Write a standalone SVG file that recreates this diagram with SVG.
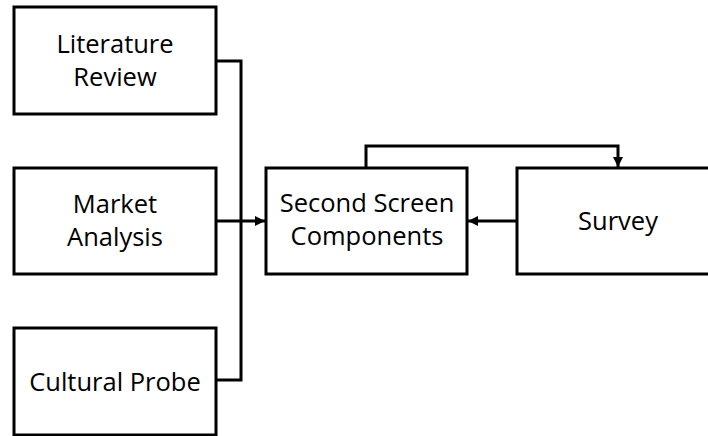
<svg xmlns="http://www.w3.org/2000/svg" width="708" height="436" viewBox="0 0 708 436">
  <style>
    .box { fill: #ffffff; stroke: #000000; stroke-width: 3; }
    .label { font-family: "Open Sans", "Noto Sans", "DejaVu Sans", sans-serif; font-size: 25.5px; fill: #000000; text-anchor: middle; }
    .wire { fill: none; stroke: #000000; stroke-width: 3; }
  </style>
  <defs>
    <marker id="arrow" viewBox="0 0 10 10" refX="10" refY="5" markerWidth="10" markerHeight="10" markerUnits="userSpaceOnUse" orient="auto">
      <path d="M0,0 L10,5 L0,10 Z" fill="#000000"/>
    </marker>
  </defs>

  <rect width="708" height="436" fill="#ffffff"/>

  <g id="connectors">
    <!-- inputs merge on a shared bus -->
    <path class="wire" d="M216,61 H241 V380 H216"/>
    <path class="wire" d="M216,221 H265" marker-end="url(#arrow)"/>
    <!-- feedback loop with the survey -->
    <path class="wire" d="M366,168 V146 H618 V167" marker-end="url(#arrow)"/>
    <path class="wire" d="M517,221 H468" marker-end="url(#arrow)"/>
  </g>

  <g id="literature-review">
    <rect class="box" x="14" y="7" width="202" height="107"/>
    <text class="label" x="115" y="53">Literature</text>
    <text class="label" x="115" y="86">Review</text>
  </g>

  <g id="market-analysis">
    <rect class="box" x="14" y="168" width="202" height="106"/>
    <text class="label" x="115" y="213">Market</text>
    <text class="label" x="115" y="246">Analysis</text>
  </g>

  <g id="cultural-probe">
    <rect class="box" x="14" y="328" width="202" height="107"/>
    <text class="label" x="115" y="391">Cultural Probe</text>
  </g>

  <g id="second-screen-components">
    <rect class="box" x="266" y="168" width="201" height="106"/>
    <text class="label" x="367" y="212">Second Screen</text>
    <text class="label" x="367" y="245">Components</text>
  </g>

  <g id="survey">
    <rect class="box" x="517" y="168" width="202" height="106"/>
    <text class="label" x="618" y="230">Survey</text>
  </g>
</svg>
